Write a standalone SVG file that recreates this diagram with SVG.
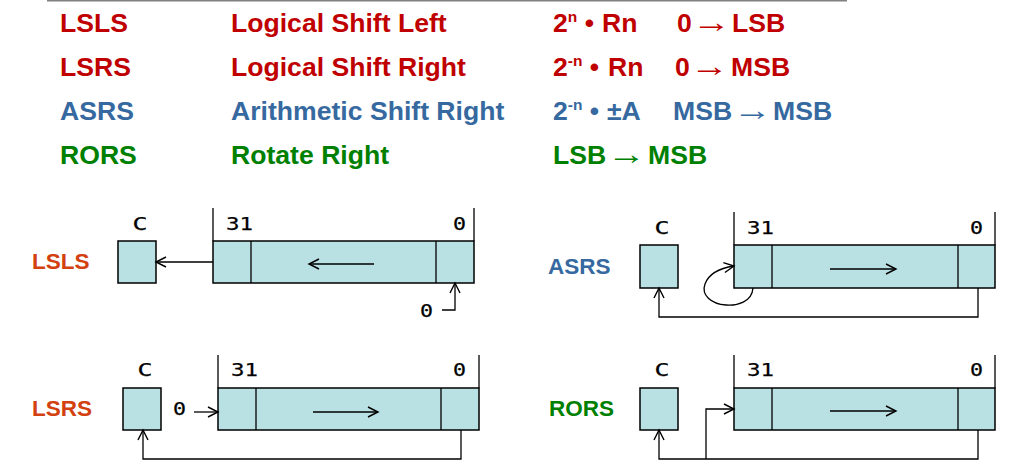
<svg xmlns="http://www.w3.org/2000/svg" width="1013" height="471" viewBox="0 0 1013 471">
<defs>
<marker id="ah" markerUnits="userSpaceOnUse" markerWidth="14" markerHeight="14" refX="10" refY="5" orient="auto" overflow="visible">
<path d="M0,0 L10,5 L0,10" fill="none" stroke="#000" stroke-width="1.4"/>
</marker>
<style>
.t{font-family:"Liberation Sans",Arial,sans-serif;font-weight:bold;font-size:26.6px}
.red{fill:#C00000}
.blue{fill:#36699F}
.green{fill:#008000}
.orange{fill:#D2410F}
.lab{font-family:"Liberation Sans",Arial,sans-serif;font-weight:bold;font-size:22.5px}
.m{font-family:"DejaVu Sans Mono","Liberation Mono",monospace;font-size:18.5px;fill:#000;stroke:#000;stroke-width:0.25}
.box{fill:#B9E0E3;stroke:#000;stroke-width:1.5}
.ln{fill:none;stroke:#000;stroke-width:1.3}
.arr{fill:none;stroke:#000;stroke-width:1.3;marker-end:url(#ah)}
.sup{font-size:15.5px}
.ar{font-family:"Liberation Sans",Arial,sans-serif;font-weight:normal;font-size:30px}
</style>
</defs>
<rect width="1013" height="471" fill="#fff"/>
<line x1="47" y1="0.75" x2="847" y2="0.75" stroke="#808080" stroke-width="1.5"/>

<g id="table">
<text class="t red" x="60" y="32">LSLS</text>
<text class="t red" x="231" y="32">Logical Shift Left</text>
<text class="t red" x="553" y="32">2<tspan class="sup" dy="-10">n</tspan><tspan dy="10"> • </tspan><tspan x="602">Rn</tspan></text>
<text class="t red" x="677" y="32">0</text>
<text class="t red ar" x="692" y="32" textLength="39" lengthAdjust="spacingAndGlyphs">→</text>
<text class="t red" x="732" y="32">LSB</text>

<text class="t red" x="60" y="76">LSRS</text>
<text class="t red" x="231" y="76">Logical Shift Right</text>
<text class="t red" x="553" y="76">2<tspan class="sup" dy="-10">-n</tspan><tspan dy="10"> • </tspan><tspan x="608">Rn</tspan></text>
<text class="t red" x="675" y="76">0</text>
<text class="t red ar" x="690" y="76" textLength="39" lengthAdjust="spacingAndGlyphs">→</text>
<text class="t red" x="731" y="76">MSB</text>

<text class="t blue" x="60" y="120">ASRS</text>
<text class="t blue" x="231" y="120">Arithmetic Shift Right</text>
<text class="t blue" x="553" y="120">2<tspan class="sup" dy="-10">-n</tspan><tspan dy="10"> • </tspan><tspan x="607">±A</tspan></text>
<text class="t blue" x="673" y="120">MSB</text>
<text class="t blue ar" x="733" y="120" textLength="39" lengthAdjust="spacingAndGlyphs">→</text>
<text class="t blue" x="773" y="120">MSB</text>

<text class="t green" x="60" y="164">RORS</text>
<text class="t green" x="231" y="164">Rotate Right</text>
<text class="t green" x="553" y="164">LSB</text>
<text class="t green ar" x="607" y="164" textLength="39" lengthAdjust="spacingAndGlyphs">→</text>
<text class="t green" x="648" y="164">MSB</text>
</g>

<g id="lsls">
<text class="lab orange" x="32" y="269">LSLS</text>
<rect class="box" x="118" y="241" width="38" height="42"/>
<text class="m" x="140" y="230" text-anchor="middle" textLength="15" lengthAdjust="spacingAndGlyphs">C</text>
<rect class="box" x="213" y="241" width="261" height="42"/>
<line class="ln" x1="251" y1="241" x2="251" y2="283"/>
<line class="ln" x1="436" y1="241" x2="436" y2="283"/>
<line class="ln" x1="213" y1="208" x2="213" y2="241"/>
<line class="ln" x1="474" y1="208" x2="474" y2="241"/>
<text class="m" x="226" y="230" textLength="27" lengthAdjust="spacingAndGlyphs">31</text>
<text class="m" x="453" y="230" textLength="13" lengthAdjust="spacingAndGlyphs">0</text>
<text class="m" x="420" y="317" textLength="13" lengthAdjust="spacingAndGlyphs">0</text>
</g>

<g id="asrs">
<text class="lab blue" x="548" y="274">ASRS</text>
<rect class="box" x="640" y="245" width="38" height="43"/>
<text class="m" x="662" y="234" text-anchor="middle" textLength="15" lengthAdjust="spacingAndGlyphs">C</text>
<rect class="box" x="734" y="245" width="261" height="43"/>
<line class="ln" x1="772" y1="245" x2="772" y2="288"/>
<line class="ln" x1="958" y1="245" x2="958" y2="288"/>
<line class="ln" x1="734" y1="212" x2="734" y2="245"/>
<line class="ln" x1="995" y1="212" x2="995" y2="245"/>
<text class="m" x="747" y="234" textLength="27" lengthAdjust="spacingAndGlyphs">31</text>
<text class="m" x="970" y="234" textLength="13" lengthAdjust="spacingAndGlyphs">0</text>
</g>

<g id="lsrs">
<text class="lab orange" x="32" y="416">LSRS</text>
<rect class="box" x="123" y="388" width="38" height="42"/>
<text class="m" x="145" y="376" text-anchor="middle" textLength="15" lengthAdjust="spacingAndGlyphs">C</text>
<rect class="box" x="218" y="388" width="261" height="42"/>
<line class="ln" x1="256" y1="388" x2="256" y2="430"/>
<line class="ln" x1="441" y1="388" x2="441" y2="430"/>
<line class="ln" x1="218" y1="355" x2="218" y2="388"/>
<line class="ln" x1="479" y1="355" x2="479" y2="388"/>
<text class="m" x="231" y="376" textLength="27" lengthAdjust="spacingAndGlyphs">31</text>
<text class="m" x="453" y="376" textLength="13" lengthAdjust="spacingAndGlyphs">0</text>
<text class="m" x="173" y="415" textLength="13" lengthAdjust="spacingAndGlyphs">0</text>
</g>

<g id="rors">
<text class="lab green" x="549" y="416">RORS</text>
<rect class="box" x="640" y="388" width="38" height="42"/>
<text class="m" x="662" y="376" text-anchor="middle" textLength="15" lengthAdjust="spacingAndGlyphs">C</text>
<rect class="box" x="734" y="388" width="261" height="42"/>
<line class="ln" x1="772" y1="388" x2="772" y2="430"/>
<line class="ln" x1="958" y1="388" x2="958" y2="430"/>
<line class="ln" x1="734" y1="355" x2="734" y2="388"/>
<line class="ln" x1="995" y1="355" x2="995" y2="388"/>
<text class="m" x="747" y="376" textLength="27" lengthAdjust="spacingAndGlyphs">31</text>
<text class="m" x="970" y="376" textLength="13" lengthAdjust="spacingAndGlyphs">0</text>
</g>

<g id="connectors">
<path class="arr" d="M374,264 H309"/>
<path class="arr" d="M213,262 H156"/>
<path class="arr" d="M442,310 H455 V283"/>

<path class="arr" d="M830,269 H896"/>
<path class="arr" d="M753,288 C752,302 737,306 726,305 C711,304 701,295 705,284 C709,273 721,268 734,266"/>
<path class="arr" d="M978,288 V317 H659 V288"/>

<path class="arr" d="M313,412 H378"/>
<path class="arr" d="M194,412 H218"/>
<path class="arr" d="M461,430 V459 H143 V430"/>

<path class="arr" d="M830,411 H896"/>
<path class="arr" d="M978,430 V459 H659 V430"/>
<path class="arr" d="M706,459 V409 H734"/>
</g>
</svg>
